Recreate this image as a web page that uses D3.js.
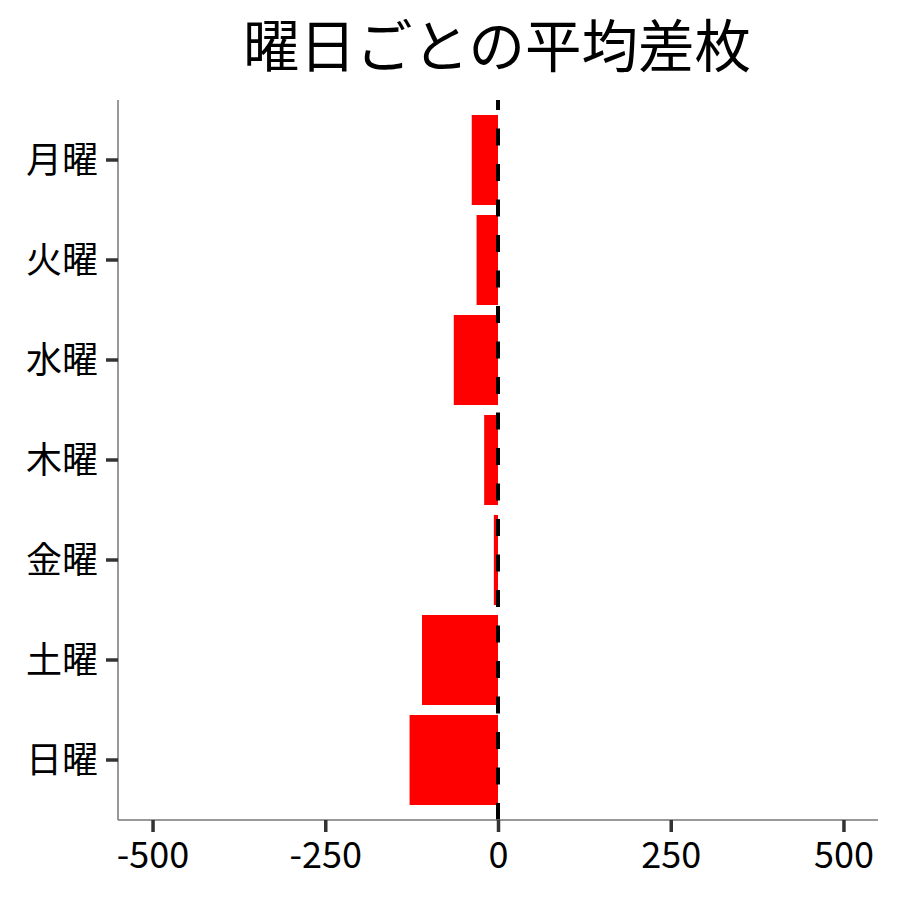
<!DOCTYPE html>
<html>
<head>
<meta charset="utf-8">
<script src="https://cdn.jsdelivr.net/npm/d3@7"></script>
<style>
  body { margin: 0; background: #fff; }
  text { font-family: "Noto Sans CJK JP", "Noto Sans", sans-serif; }
</style>
</head>
<body>
<div id="grafica"></div>
<script>
// datos
const dias = ["月曜", "火曜", "水曜", "木曜", "金曜", "土曜", "日曜"]
const diferencia = [-38, -31, -64, -20, -6, -110, -128]
const xTicks = [-500, -250, 0, 250, 500]
const titulo = "曜日ごとの平均差枚"

const anchoTotal = 900
const altoTotal = 900

const margins = {
    top: 100,
    right: 22,
    bottom: 80,
    left: 118,
}

const ancho = anchoTotal - margins.left - margins.right
const alto = altoTotal - margins.top - margins.bottom

const svg = d3.select("#grafica").append("svg")
    .attr("width", anchoTotal)
    .attr("height", altoTotal)

const g = svg.append("g")
    .attr("transform", `translate(${margins.left},${margins.top})`)

// Escaladores
const x = d3.scaleLinear()
    .domain([-550, 550])
    .range([0, ancho])

const y = d3.scaleBand()
    .domain(dias)
    .range([0, alto])
    .paddingInner(0.1)
    .paddingOuter(0.15)

const datos = dias.map((d, i) => ({ dia: d, valor: diferencia[i] }))

// Barras
g.selectAll("rect")
    .data(datos)
    .enter()
    .append("rect")
    .attr("x", d => x(Math.min(0, d.valor)))
    .attr("y", d => y(d.dia))
    .attr("width", d => Math.abs(x(d.valor) - x(0)))
    .attr("height", y.bandwidth())
    .attr("fill", "#ff0000")

// Linea en cero
g.append("line")
    .attr("x1", x(0))
    .attr("x2", x(0))
    .attr("y1", alto)
    .attr("y2", 0)
    .attr("stroke", "#000")
    .attr("stroke-width", 4)
    .attr("stroke-dasharray", "17,18.5")

// Ejes
const xAxis = d3.axisBottom(x)
    .tickValues(xTicks)
    .tickSize(12)
    .tickPadding(6)
    .tickFormat(d => String(d))   // guion normal, no signo menos

const yAxis = d3.axisLeft(y)
    .tickSize(12)
    .tickPadding(8)

const xAxisGroup = g.append("g")
    .attr("transform", `translate(0, ${alto})`)
    .call(xAxis)

const yAxisGroup = g.append("g")
    .call(yAxis)

for (const eje of [xAxisGroup, yAxisGroup]) {
    eje.select(".domain")
        .attr("stroke", "#777")
        .attr("stroke-width", 1.5)
    eje.selectAll(".tick line")
        .attr("stroke", "#333")
        .attr("stroke-width", 3.5)
    eje.selectAll(".tick text")
        .attr("fill", "#000")
        .style("font-size", "36px")
}
// quitar los extremos del dominio
xAxisGroup.select(".domain").attr("d", `M0,0H${ancho}`)
yAxisGroup.select(".domain").attr("d", `M0,0V${alto}`)
yAxisGroup.selectAll(".tick text").attr("dy", "0.35em")
xAxisGroup.selectAll(".tick text").attr("dy", "0.82em")

// Titulo
svg.append("text")
    .attr("x", 497)
    .attr("y", 42)
    .attr("text-anchor", "middle")
    .attr("dominant-baseline", "central")
    .style("font-size", "56.5px")
    .attr("fill", "#000")
    .text(titulo)
</script>
</body>
</html>
